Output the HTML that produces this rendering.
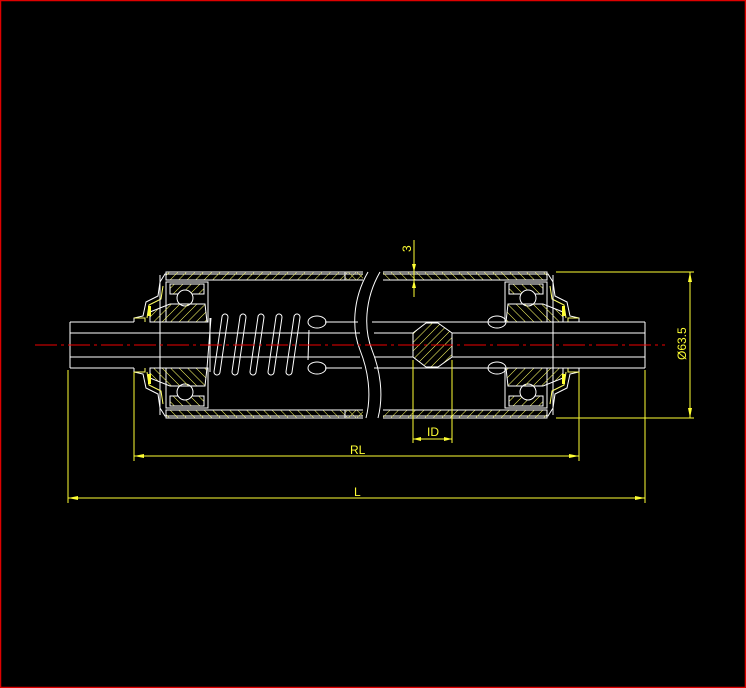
<!DOCTYPE html>
<html><head><meta charset="utf-8"><style>
html,body{margin:0;padding:0;background:#000;}
svg{display:block;}
text{font-family:"Liberation Sans",sans-serif;fill:#ffff33;font-size:12px;}
</style></head><body>
<svg width="746" height="688" viewBox="0 0 746 688" xmlns="http://www.w3.org/2000/svg">
<defs>
<pattern id="h" width="6" height="6" patternUnits="userSpaceOnUse" patternTransform="rotate(45)">
<line x1="0" y1="0" x2="0" y2="6" stroke="#ffff66" stroke-width="1"/>
</pattern>
<g id="brg">
  <!-- top-left quarter bearing assembly -->
  <path d="M160,415 L160,282 L165,274 L368,274" fill="none" stroke="#fff" stroke-width="1"/>
  <rect x="166" y="272" width="202" height="8" fill="url(#h)" stroke="#fff" stroke-width="1"/>
  <!-- bearing box -->
  <rect x="166" y="282" width="42" height="40" fill="none" stroke="#fff" stroke-width="1"/>
  <rect x="170" y="284" width="34" height="10" fill="url(#h)" stroke="#fff" stroke-width="1"/>
  <circle cx="185" cy="298" r="8" fill="#000" stroke="#fff" stroke-width="1"/>
  <path d="M150,322 L150,312 L170,304 L205,304 L207,322 Z" fill="url(#h)" stroke="#fff" stroke-width="1"/>
  <!-- seal -->
  <path d="M160,282 L158,296 L146,302 L143,316 L134,318 L134,322" fill="none" stroke="#fff" stroke-width="1"/>
  <path d="M163,286 L161,299 L149,305 L147,318" fill="none" stroke="#ffff66" stroke-width="1"/>
  <rect x="148" y="306" width="3" height="10" fill="#ffff33"/>
  <path d="M134,318 L145,318 L145,322" fill="none" stroke="#ffff66" stroke-width="1"/>
  <line x1="208" y1="282" x2="208" y2="322" stroke="#fff" stroke-width="1"/>
</g>
</defs>
<rect x="0.5" y="0.5" width="745" height="687" fill="none" stroke="#d00" stroke-width="1.5"/>

<use href="#brg"/>
<use href="#brg" transform="translate(0,690) scale(1,-1)"/>
<use href="#brg" transform="translate(713,0) scale(-1,1)"/>
<use href="#brg" transform="translate(713,690) scale(-1,-1)"/>

<!-- black cover over tube at break -->
<rect x="363" y="268" width="20" height="154" fill="#000"/>
<!-- break curves -->
<path d="M368,272 C352,300 352,330 360,350 C368,370 372,395 366,418" fill="none" stroke="#fff" stroke-width="1"/>
<path d="M380,272 C364,300 364,330 372,350 C380,370 384,395 378,418" fill="none" stroke="#fff" stroke-width="1"/>

<!-- shaft -->
<g stroke="#fff" stroke-width="1" fill="none">
<path d="M70,322 L134,322"/><path d="M70,368 L134,368"/>
<line x1="70" y1="322" x2="70" y2="368"/>
<line x1="70" y1="333" x2="210" y2="333"/><line x1="70" y1="357" x2="210" y2="357"/>
<line x1="210" y1="333" x2="360" y2="333"/><line x1="210" y1="357" x2="360" y2="357"/>
<line x1="325" y1="322" x2="358" y2="322"/><line x1="325" y1="368" x2="362" y2="368"/>
<line x1="372" y1="322" x2="645" y2="322"/><line x1="374" y1="368" x2="645" y2="368"/>
<line x1="374" y1="333" x2="413" y2="333"/><line x1="374" y1="357" x2="413" y2="357"/>
<line x1="452" y1="333" x2="645" y2="333"/><line x1="452" y1="357" x2="645" y2="357"/>
<line x1="645" y1="322" x2="645" y2="368"/>
<line x1="210" y1="318" x2="210" y2="372"/>
<ellipse cx="317" cy="322" rx="9" ry="6"/><ellipse cx="317" cy="368" rx="9" ry="6"/>
<ellipse cx="497" cy="322" rx="9" ry="6"/><ellipse cx="497" cy="368" rx="9" ry="6"/>
<line x1="309" y1="330" x2="308" y2="360"/>
</g>
<!-- hexagon -->
<path d="M413,333 L426,323 L438,323 L452,333 L452,357 L438,367 L426,367 L413,357 Z" fill="url(#h)" stroke="#fff" stroke-width="1"/>

<!-- spring -->
<g stroke-linecap="round" fill="none">
<g stroke="#fff" stroke-width="7">
<line x1="225" y1="317" x2="217" y2="372"/><line x1="243" y1="317" x2="235" y2="372"/>
<line x1="261" y1="317" x2="253" y2="372"/><line x1="279" y1="317" x2="271" y2="372"/>
<line x1="297" y1="317" x2="289" y2="372"/>
</g>
<g stroke="#000" stroke-width="5">
<line x1="225" y1="317" x2="217" y2="372"/><line x1="243" y1="317" x2="235" y2="372"/>
<line x1="261" y1="317" x2="253" y2="372"/><line x1="279" y1="317" x2="271" y2="372"/>
<line x1="297" y1="317" x2="289" y2="372"/>
</g>
</g>
<g stroke="#fff" stroke-width="1">
<line x1="210" y1="333" x2="305" y2="333"/><line x1="210" y1="357" x2="305" y2="357"/>
<line x1="211" y1="318" x2="207" y2="368"/>
</g>

<!-- center line -->
<line x1="35" y1="345" x2="665" y2="345" stroke="#e00" stroke-width="1" stroke-dasharray="22,4,3,4"/>

<!-- dimensions -->
<g stroke="#ffff33" stroke-width="1" fill="none">
<line x1="68" y1="370" x2="68" y2="503"/>
<line x1="645" y1="370" x2="645" y2="503"/>
<line x1="68" y1="498" x2="645" y2="498"/>
<line x1="134" y1="372" x2="134" y2="461"/>
<line x1="579" y1="372" x2="579" y2="461"/>
<line x1="134" y1="456" x2="579" y2="456"/>
<line x1="413" y1="360" x2="413" y2="443"/>
<line x1="452" y1="360" x2="452" y2="443"/>
<line x1="413" y1="439" x2="452" y2="439"/>
<line x1="556" y1="272" x2="694" y2="272"/>
<line x1="556" y1="418" x2="694" y2="418"/>
<line x1="690" y1="272" x2="690" y2="418"/>
<line x1="414" y1="240" x2="414" y2="297"/>
</g>
<g fill="#ffff33">
<polygon points="68,498 78,496 78,500"/><polygon points="645,498 635,496 635,500"/>
<polygon points="134,456 144,454 144,458"/><polygon points="579,456 569,454 569,458"/>
<polygon points="413,439 421,437 421,441"/><polygon points="452,439 444,437 444,441"/>
<polygon points="690,272 688,282 692,282"/><polygon points="690,418 688,408 692,408"/>
<polygon points="414,272 412,264 416,264"/><polygon points="414,280 412,288 416,288"/>
</g>
<text x="350" y="454">RL</text>
<text x="354" y="496">L</text>
<text x="427" y="436">ID</text>
<text transform="translate(411,252) rotate(-90)">3</text>
<text transform="translate(686,360) rotate(-90)">Ø63.5</text>
</svg>
</body></html>
